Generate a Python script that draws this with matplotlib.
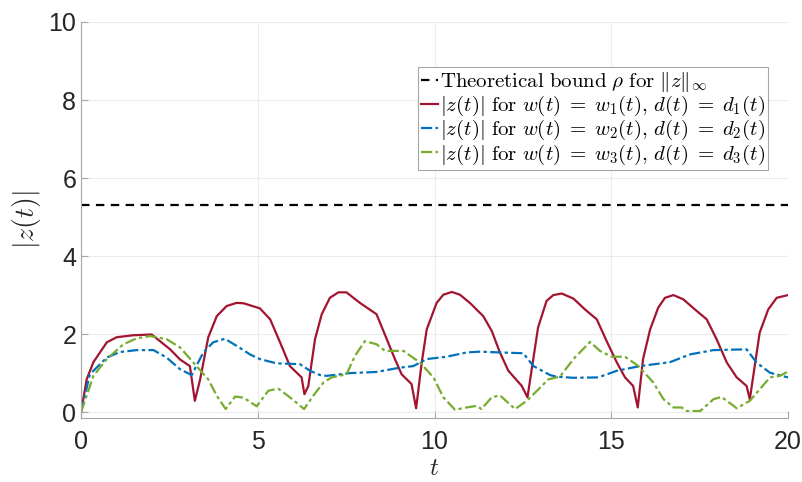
import matplotlib

matplotlib.use("Agg")
import matplotlib.pyplot as plt
import numpy as np

plt.rcParams["mathtext.fontset"] = "cm"
plt.rcParams["font.family"] = ["Liberation Sans", "DejaVu Sans"]

# theoretical bound on ||z||_inf
rho = 5.3

# |z(t)| for w1, d1
t1 = [0, 0.16, 0.35, 0.73, 1.01, 1.47, 2.0, 2.52, 2.8, 3.08, 3.22, 3.37, 3.6, 3.84, 4.12, 4.4,
      4.6, 5.06, 5.35, 5.63, 5.91, 6.24, 6.32, 6.43, 6.62, 6.81, 7.04, 7.28, 7.51, 7.89, 8.36,
      8.65, 8.88, 9.07, 9.35, 9.48, 9.64, 9.78, 10.06, 10.25, 10.49, 10.72, 11.0, 11.38, 11.62,
      11.85, 12.09, 12.47, 12.63, 12.93, 13.17, 13.36, 13.6, 13.93, 14.26, 14.59, 14.87, 15.16,
      15.39, 15.62, 15.75, 15.9, 16.1, 16.33, 16.52, 16.76, 17.04, 17.37, 17.7, 17.98, 18.27,
      18.55, 18.83, 18.92, 19.2, 19.44, 19.68, 20.0]
z1 = [0, 0.84, 1.28, 1.79, 1.92, 1.97, 1.99, 1.61, 1.35, 1.18, 0.29, 0.84, 1.92, 2.46, 2.72, 2.8,
      2.79, 2.66, 2.38, 1.79, 1.18, 0.89, 0.46, 0.67, 1.87, 2.51, 2.93, 3.07, 3.07, 2.8, 2.51,
      1.87, 1.36, 0.97, 0.72, 0.1, 1.28, 2.12, 2.8, 3.01, 3.08, 3.01, 2.8, 2.46, 2.08,
      1.53, 1.06, 0.67, 0.38, 2.17, 2.85, 3.0, 3.04, 2.91, 2.63, 2.38, 1.82, 1.27,
      0.89, 0.67, 0.12, 1.36, 2.12, 2.68, 2.93, 3.0, 2.89, 2.63, 2.38, 1.87, 1.27,
      0.89, 0.67, 0.33, 2.04, 2.63, 2.93, 3.0]

# |z(t)| for w2, d2
t2 = [0, 0.25, 0.73, 1.1, 1.57, 2.05, 2.42, 2.8, 3.13, 3.46, 3.74, 4.07, 4.4, 4.78, 5.06, 5.53,
      6.19, 6.48, 6.76, 6.95, 7.61, 8.36, 9.02, 9.4, 9.78, 10.34, 10.91, 11.29, 11.85, 12.51,
      12.8, 13.27, 13.45, 13.93, 14.63, 15.16, 15.81, 16.66, 17.23, 17.89, 18.83, 19.11,
      19.49, 20.0]
z2 = [0, 0.97, 1.4, 1.54, 1.59, 1.59, 1.4, 1.1, 0.95, 1.53, 1.79, 1.88, 1.7, 1.48, 1.36, 1.25,
      1.23, 1.06, 0.95, 0.93, 1.0, 1.03, 1.14, 1.18, 1.36, 1.42, 1.53, 1.55, 1.53, 1.51,
      1.18, 0.95, 0.91, 0.88, 0.89, 1.06, 1.18, 1.28, 1.48, 1.59, 1.61, 1.27,
      1.01, 0.89]

# |z(t)| for w3, d3
t3 = [0, 0.35, 0.73, 1.2, 1.57, 1.95, 2.42, 2.8, 3.18, 3.6, 3.84, 4.09, 4.36, 4.6, 4.97, 5.3,
      5.58, 5.91, 6.31, 6.57, 6.86, 7.09, 7.51, 7.75, 8.03, 8.36, 8.6, 9.12, 9.59, 9.97, 10.25,
      10.58, 10.91, 11.19, 11.33, 11.62, 11.85, 12.28, 12.61, 12.98, 13.22, 13.55, 13.93,
      14.4, 14.68, 15.01, 15.39, 15.77, 16.19, 16.48, 16.76, 16.99, 17.14, 17.52, 17.89,
      18.12, 18.55, 18.92, 19.49, 19.77, 20.0]
z3 = [0, 0.93, 1.36, 1.74, 1.89, 1.95, 1.87, 1.66, 1.27, 0.84, 0.42, 0.08, 0.4, 0.37, 0.15, 0.55,
      0.6, 0.38, 0.08, 0.42, 0.76, 0.89, 0.97, 1.44, 1.82, 1.74, 1.57, 1.57, 1.27, 0.89, 0.38,
      0.06, 0.12, 0.16, 0.08, 0.38, 0.43, 0.08, 0.29, 0.62, 0.84, 0.91, 1.36,
      1.8, 1.57, 1.42, 1.42, 1.18, 0.76, 0.33, 0.12, 0.12, 0.03, 0.03, 0.33,
      0.39, 0.1, 0.29, 0.89, 0.93, 1.04]

labels = [
    r"$\mathrm{Theoretical\ bound}\ \rho\ \mathrm{for}\ \|z\|_\infty$",
    r"$|z(t)|\ \mathrm{for}\ w(t)\;=\;w_1(t),\, d(t)\;=\;d_1(t)$",
    r"$|z(t)|\ \mathrm{for}\ w(t)\;=\;w_2(t),\, d(t)\;=\;d_2(t)$",
    r"$|z(t)|\ \mathrm{for}\ w(t)\;=\;w_3(t),\, d(t)\;=\;d_3(t)$",
]

fig = plt.figure(figsize=(8.03, 4.82), dpi=100)
ax = fig.add_axes([0.1009, 0.1328, 0.8804, 0.8216])

ax.axhline(rho, color="black", lw=1.6, dashes=(3.8, 2.9), label=labels[0])
ax.plot(t1, z1, color="#A2142F", lw=1.6, label=labels[1])
ax.plot(t2, z2, color="#0072BD", lw=1.6, dashes=(5, 1.5, 1.5, 1.5), label=labels[2])
ax.plot(t3, z3, color="#77AC30", lw=1.6, dashes=(5, 1.5, 1.5, 1.5), label=labels[3])

ax.set_xlim(0, 20)
ax.set_ylim(-0.15, 10)
ax.set_xticks([0, 5, 10, 15, 20])
ax.set_yticks([0, 2, 4, 6, 8, 10])
ax.grid(True, color="#ebebeb", lw=0.8)
ax.set_axisbelow(True)

for side in ["top", "right"]:
    ax.spines[side].set_visible(False)
for side in ["left", "bottom"]:
    ax.spines[side].set_color("#a6a6a6")
ax.tick_params(direction="in", length=5, colors="#a6a6a6", labelcolor="#262626",
               labelsize=18)
ax.tick_params(axis="x", pad=9)

ax.set_xlabel(r"$t$", fontsize=18, color="#262626", labelpad=1)
ax.set_ylabel(r"$|z(t)|$", fontsize=20, color="#262626", labelpad=4)

leg = ax.legend(loc="upper right", bbox_to_anchor=(0.972, 0.886), fontsize=15,
                handlelength=0.8, handletextpad=0.1, borderpad=0.15, labelspacing=0.0,
                borderaxespad=0, fancybox=False, framealpha=1)
leg.get_frame().set_edgecolor("#a6a6a6")
leg.get_frame().set_linewidth(0.8)

fig.savefig("out.png", dpi=100)
